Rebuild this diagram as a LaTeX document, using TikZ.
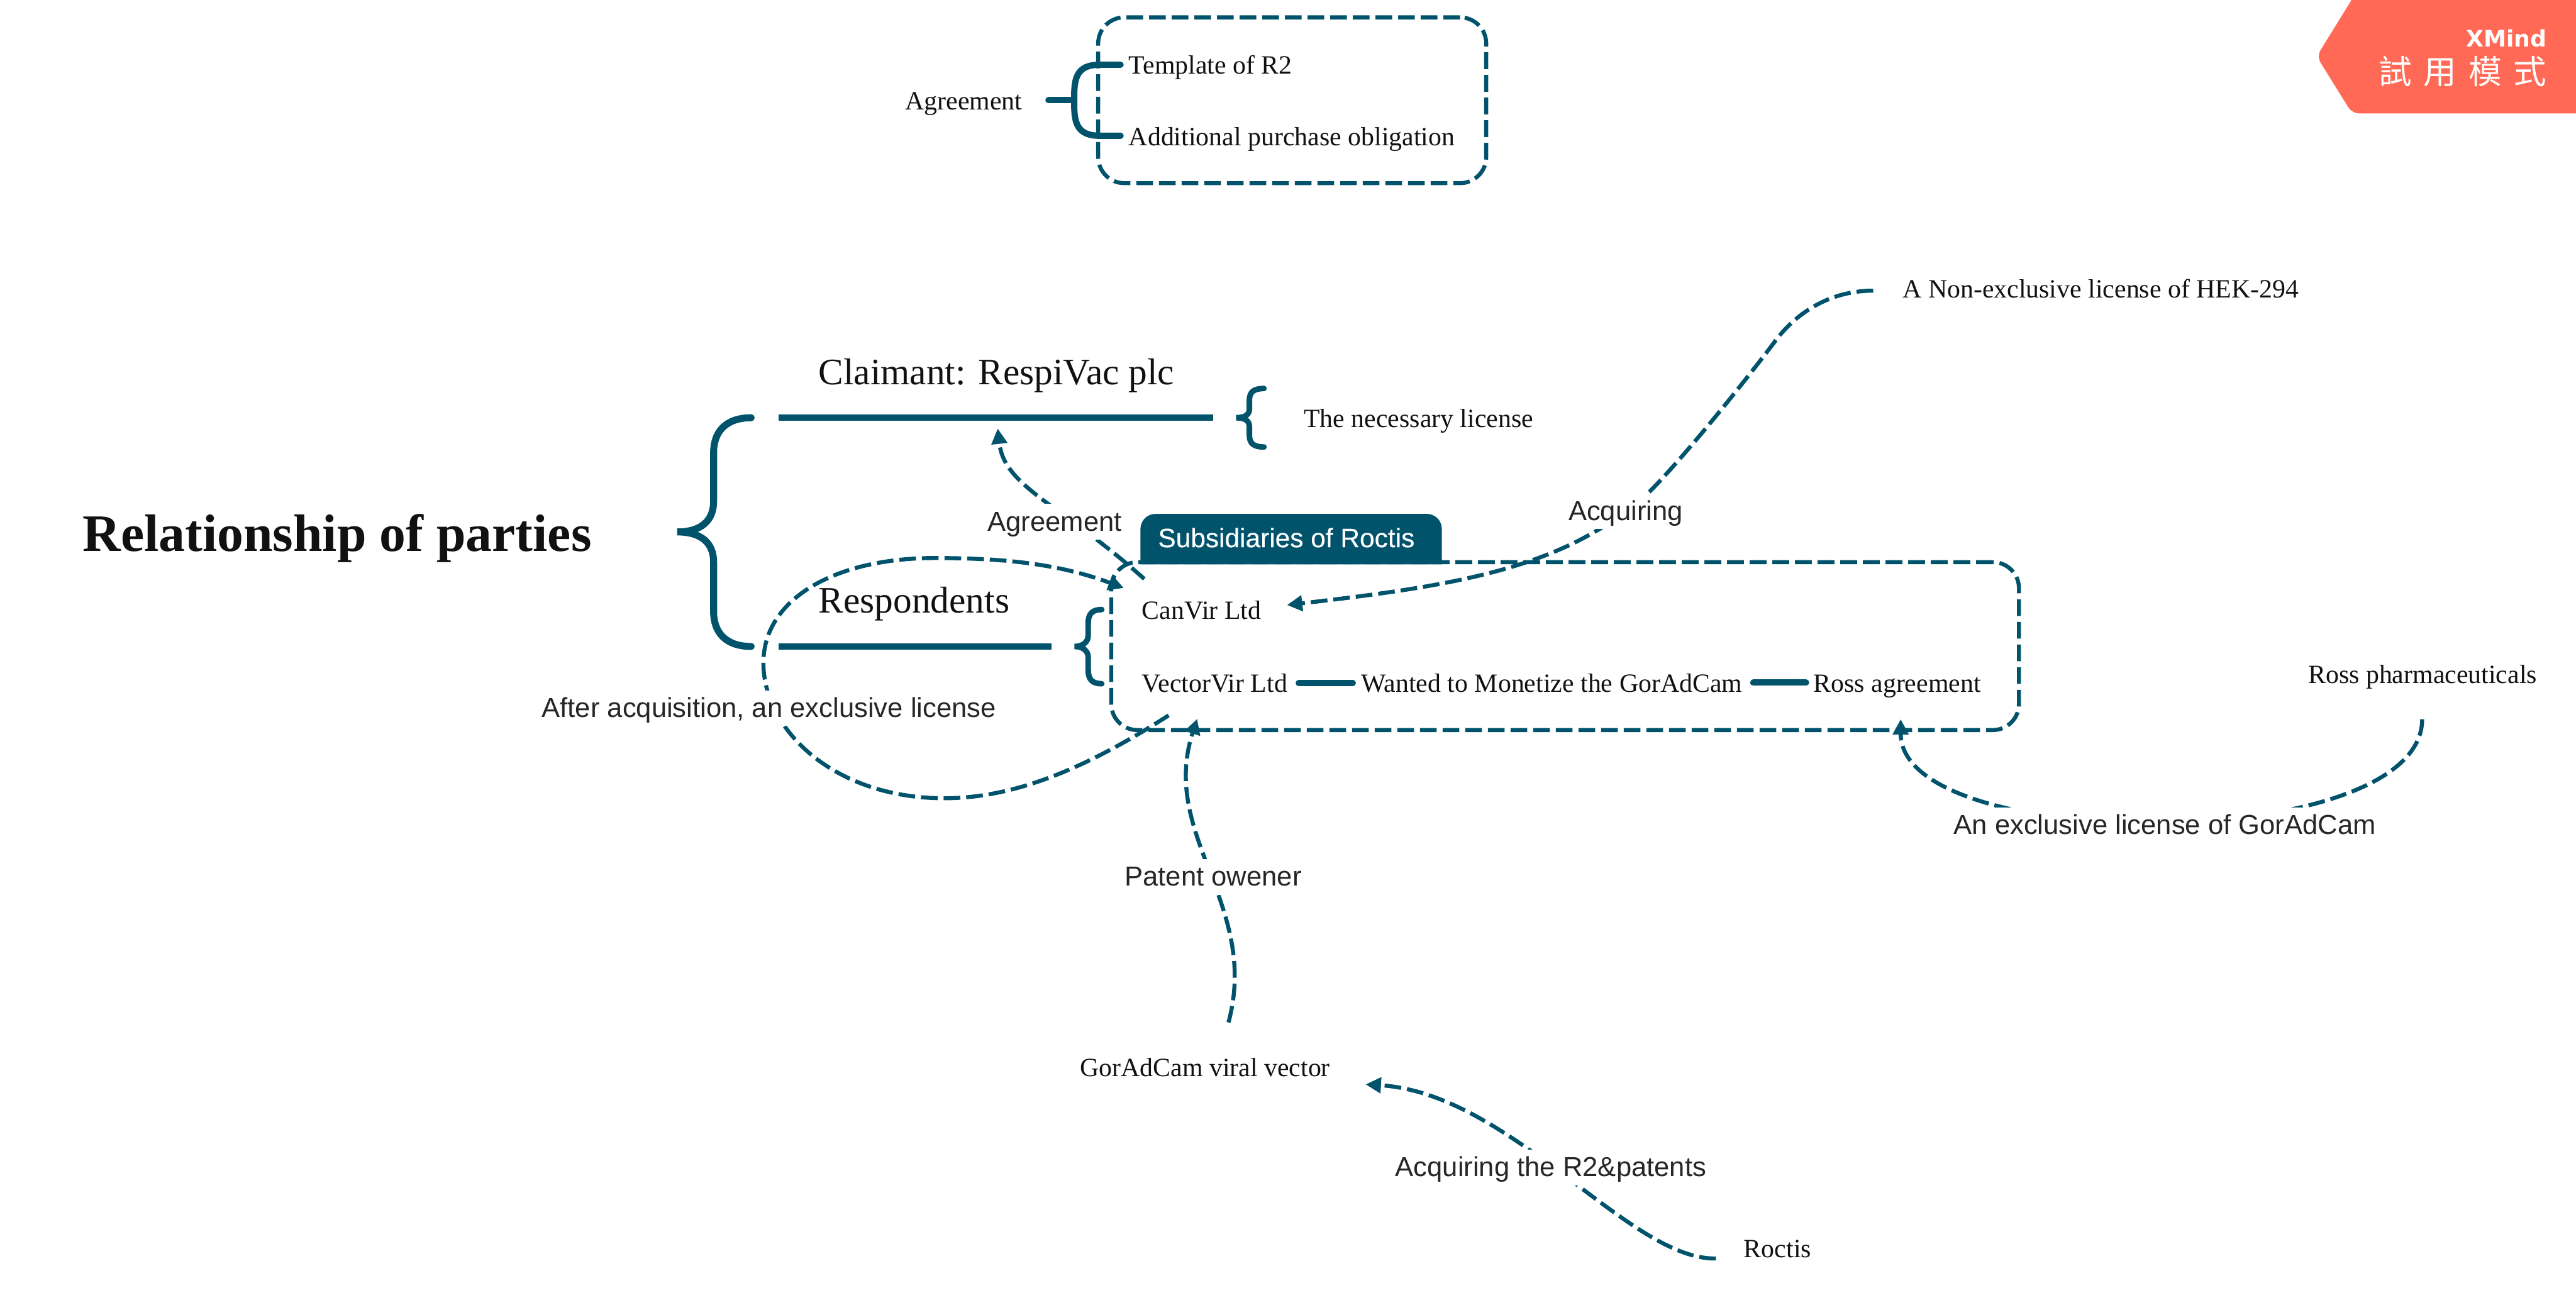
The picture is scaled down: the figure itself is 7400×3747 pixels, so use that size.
\documentclass[tikz,border=0pt]{standalone}
\usepackage{fontspec}
\usetikzlibrary{arrows.meta}
\setmainfont{Liberation Serif}
\newfontfamily\labelfont{Liberation Sans}
\newfontfamily\tabfont[FakeBold=0.3]{Liberation Sans}
\newfontfamily\markfont{DejaVu Sans}
\newfontfamily\cjkfont{Noto Sans CJK TC}
\definecolor{xteal}{HTML}{00536B}
\definecolor{xred}{HTML}{FF6955}
\definecolor{xtext}{HTML}{111111}
\definecolor{xlabel}{HTML}{262626}
\tikzset{
  x=0.01cm,y=-0.01cm,
  topic/.style={inner sep=0pt,anchor=base west,text=xtext,font=\fontsize{21.5}{24}\selectfont},
  bigtopic/.style={topic,font=\fontsize{30.5}{34}\selectfont},
  rootnode/.style={topic,font=\fontsize{43}{48}\selectfont\bfseries},
  rellabel/.style={anchor=base,fill=white,inner ysep=0pt,inner xsep=0.1cm,text height=0.77cm,text depth=0.25cm,text=xlabel,font=\labelfont\fontsize{22.4}{25}\selectfont},
  framebox/.style={draw=xteal,line width=0.115cm,dash pattern=on 0.48cm off 0.17cm,rounded corners=0.75cm,inner sep=0pt},
  rel/.style={draw=xteal,line width=0.115cm,dash pattern=on 0.48cm off 0.17cm},
  relarrow/.style={rel,-{Triangle[length=0.44cm,width=0.44cm]}},
  thickbrace/.style={draw=xteal,line width=0.2cm,line cap=round},
  smallbrace/.style={draw=xteal,line width=0.16cm,line cap=round},
  stem/.style={draw=xteal,line width=0.18cm},
  link/.style={draw=xteal,line width=0.18cm,line cap=round},
}
\begin{document}
\begin{tikzpicture}
\useasboundingbox (0,0) rectangle (7400,3747);
% banner
\begin{scope}
\clip (0,0) rectangle (7400,3747);
\fill[xred,rounded corners=0.2cm] (7500,-50) -- (6786,-50) -- (6655,162) -- (6757,326) -- (7500,326) -- cycle;
\end{scope}
\node[inner sep=0pt,anchor=base east,text=white,font=\markfont\bfseries\fontsize{18.6}{20}\selectfont] (xm) at (7316,135) {XMind};
\node[inner sep=0pt,anchor=base east,text=white,font=\cjkfont\fontsize{27}{30}\selectfont] (trial) at (7316,241) {試\kern0.34cm用\kern0.34cm模\kern0.34cm式};
% top frame
\node[framebox,minimum width=11.14cm,minimum height=4.76cm] (frameA) at (3712,288) {};
\node[topic] (agree) at (2600,316) {Agreement};
\node[topic] (tmpl) at (3242,213) {Template of R2};
\node[topic] (addl) at (3242,418) {Additional purchase obligation};
\coordinate (agreeStem) at (3012,288);
\coordinate (tmplEnd) at (3219,186);
\coordinate (addlEnd) at (3219,390);
\draw[link] (agreeStem) -- (3086,288);
\draw[link] (tmplEnd) -- (3160,186) .. controls (3105,186) and (3086,210) .. (3086,270) -- (3086,306) .. controls (3086,366) and (3105,390) .. (3160,390) -- (addlEnd);
% main frame
\node[framebox,minimum width=26.06cm,minimum height=4.82cm] (frameB) at (4496,1856) {};
\fill[xteal] (3276,1621) -- (3276,1521) .. controls (3276,1495) and (3295,1476) .. (3321,1476) -- (4097,1476) .. controls (4123,1476) and (4142,1495) .. (4142,1521) -- (4142,1621) -- cycle;
\node[inner sep=0pt,anchor=base west,text=white,font=\tabfont\fontsize{21.8}{24}\selectfont] (tab) at (3326,1572) {Subsidiaries of Roctis};
% root
\node[rootnode] (root) at (237,1583) {Relationship of parties};
\node[bigtopic] (claim) at (2351,1105) {Claimant: RespiVac plc};
\node[bigtopic] (resp) at (2351,1761) {Respondents};
\node[topic] (neces) at (3745,1228) {The necessary license};
\node[topic] (canvir) at (3280,1779) {CanVir Ltd};
\node[topic] (vector) at (3280,1988) {VectorVir Ltd};
\node[topic] (wanted) at (3910,1988) {Wanted to Monetize the GorAdCam};
\node[topic] (rossag) at (5209,1988) {Ross agreement};
\node[topic] (ross) at (6630,1963) {Ross pharmaceuticals};
\node[topic] (nonex) at (5465,855) {A Non-exclusive license of HEK-294};
\node[topic] (gor) at (3102,3092) {GorAdCam viral vector};
\node[topic] (roctis) at (5009,3612) {Roctis};
% braces
\coordinate (bigTop) at (2158,1200);
\coordinate (bigTip) at (1945,1528);
\coordinate (bigBot) at (2158,1857);
\draw[thickbrace] (bigTop) .. controls (2085,1200) and (2050,1240) .. (2050,1300) -- (2050,1440) .. controls (2050,1495) and (2015,1528) .. (bigTip) .. controls (2015,1528) and (2050,1560) .. (2050,1615) -- (2050,1757) .. controls (2050,1817) and (2085,1857) .. (bigBot);
\draw[stem] (2236,1200) -- (3485,1200);
\draw[stem] (2236,1857) -- (3021,1857);
\coordinate (smTip) at (3551,1200);
\draw[smallbrace] (3631,1116) .. controls (3603,1116) and (3589,1125) .. (3589,1150) -- (3589,1175) .. controls (3589,1192) and (3575,1200) .. (smTip) .. controls (3575,1200) and (3589,1208) .. (3589,1225) -- (3589,1250) .. controls (3589,1275) and (3603,1284) .. (3631,1284);
\coordinate (rsTip) at (3087,1857);
\draw[smallbrace] (3165,1751) .. controls (3139,1751) and (3126,1762) .. (3126,1790) -- (3126,1825) .. controls (3126,1845) and (3110,1857) .. (rsTip) .. controls (3110,1857) and (3126,1869) .. (3126,1889) -- (3126,1925) .. controls (3126,1953) and (3139,1964) .. (3165,1964);
% links
\draw[link] ([xshift=0.32cm,yshift=0.26cm]vector.base east) -- ([xshift=-0.24cm,yshift=0.26cm]wanted.base west);
\draw[link] ([xshift=0.31cm,yshift=0.27cm]wanted.base east) -- ([xshift=-0.21cm,yshift=0.27cm]rossag.base west);
% relations
\coordinate (a1) at (3287,1663);
\coordinate (a2) at (2866,1231);
\draw[relarrow] (a1) .. controls (3050,1450) and (2885,1400) .. (a2);
\coordinate (b1) at (3357,2055);
\coordinate (b2) at (3228,1689);
\draw[relarrow] (b1) .. controls (3100,2220) and (2900,2293) .. (2712,2293) .. controls (2400,2293) and (2193,2100) .. (2193,1904) .. controls (2193,1720) and (2400,1603) .. (2684,1603) .. controls (2860,1603) and (3030,1615) .. (b2);
\coordinate (c1) at (5381,835);
\coordinate (c2) at (3697,1738);
\draw[relarrow] (c1) .. controls (5260,835) and (5165,895) .. (5103,975) .. controls (5040,1060) and (4850,1300) .. (4739,1412) .. controls (4500,1630) and (4200,1680) .. (c2);
\coordinate (d1) at (6958,2066);
\coordinate (d2) at (5460,2066);
\draw[relarrow] (d1) .. controls (6958,2456) and (5460,2456) .. (d2);
\coordinate (e1) at (3529,2937);
\coordinate (e2) at (3439,2065);
\draw[relarrow] (e1) .. controls (3620,2600) and (3330,2400) .. (e2);
\coordinate (f1) at (4929,3615);
\coordinate (f2) at (3923,3115);
\draw[relarrow] (f1) .. controls (4680,3620) and (4340,3140) .. (f2);
% relation labels
\node[rellabel] (la) at (3030,1525) {Agreement};
\node[rellabel] (lb) at (2209,2060) {After acquisition, an exclusive license};
\node[rellabel] (lc) at (4670,1495) {Acquiring};
\node[rellabel] (ld) at (6219,2396) {An exclusive license of GorAdCam};
\node[rellabel] (le) at (3485,2545) {Patent owener};
\node[rellabel] (lf) at (4455,3380) {Acquiring the R2\&patents};
\end{tikzpicture}
\end{document}
